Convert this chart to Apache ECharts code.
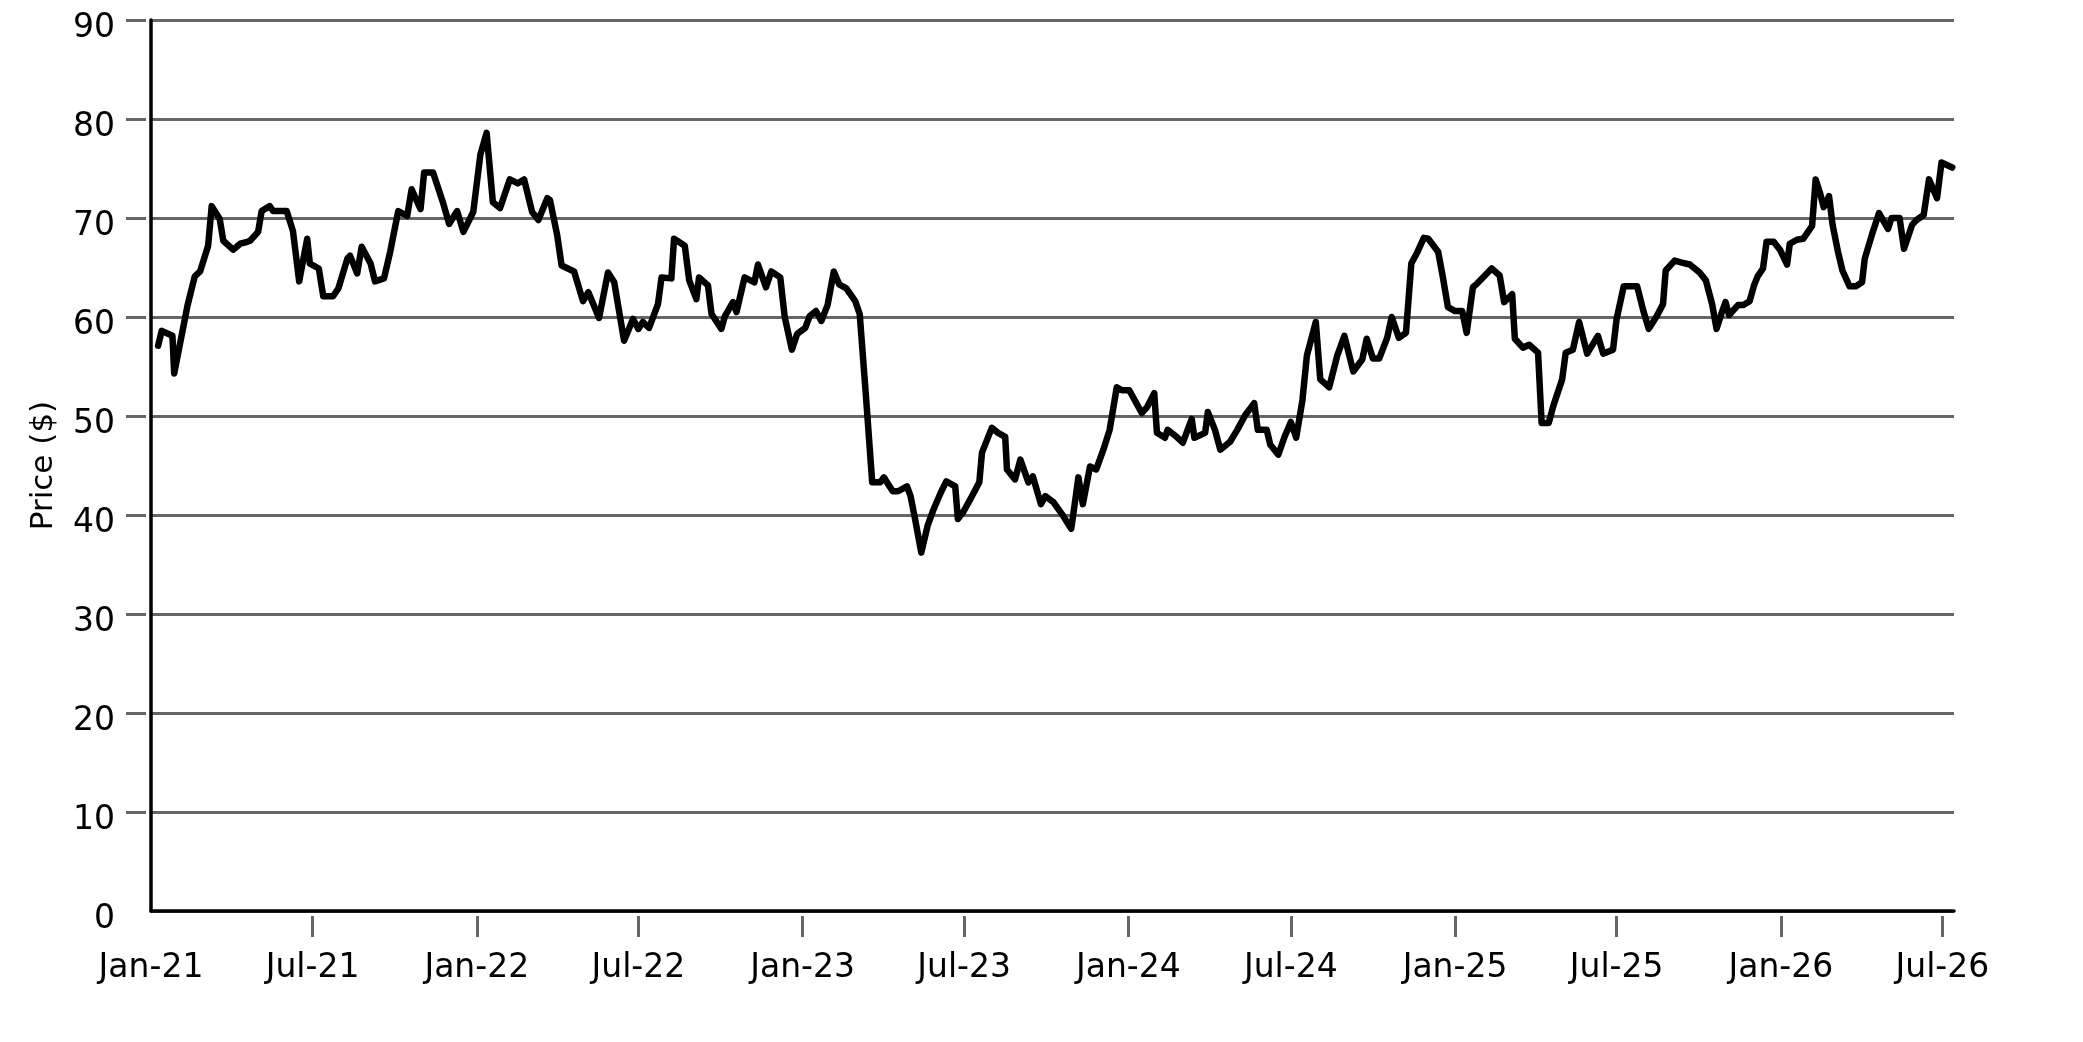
<!DOCTYPE html>
<html>
<head>
<meta charset="utf-8">
<script src="https://cdn.jsdelivr.net/npm/echarts@6/dist/echarts.min.js"></script>
<style>
html,body{margin:0;padding:0;background:#ffffff;}
#chart{width:2083px;height:1042px;}
</style>
</head>
<body>
<div id="chart"></div>
<script>
// ---- data (weekly-ish closing prices) ----
const startDate = '2021-01-01';
// days since startDate for each observation
const dayOffsets = [
8,12,24,26,41,49,55,64,68,77,81,92,100,108,111,120,124,133,137,152,
159,166,175,178,188,193,204,210,220,223,231,236,246,251,261,268,277,287,292,302,
306,316,327,334,343,350,361,369,376,383,391,402,411,418,427,434,444,447,455,460,
474,484,490,502,512,519,530,540,546,551,558,568,572,583,586,598,603,611,614,624,
628,639,643,652,656,665,676,680,689,695,705,710,718,724,733,738,745,751,758,765,
771,779,789,794,801,808,817,821,831,837,847,851,856,863,870,876,885,891,901,904,
910,918,928,931,942,949,957,959,968,974,983,988,997,1002,1011,1022,1031,1039,1044,1052,
1059,1067,1074,1082,1088,1096,1110,1116,1124,1127,1136,1139,1149,1156,1166,1169,1181,1184,1192,1198,
1209,1217,1226,1236,1240,1250,1254,1263,1270,1277,1283,1290,1295,1305,1310,1320,1329,1337,1347,1357,
1362,1369,1376,1385,1390,1398,1406,1412,1419,1426,1431,1442,1447,1453,1461,1469,1474,1481,1486,1502,
1511,1516,1525,1528,1537,1544,1554,1558,1566,1571,1581,1585,1593,1600,1609,1621,1627,1638,1642,1650,
1665,1672,1678,1687,1694,1697,1707,1715,1724,1735,1742,1749,1754,1760,1764,1768,1778,1784,1791,1796,
1800,1806,1810,1818,1825,1833,1836,1844,1851,1861,1865,1870,1874,1880,1884,1890,1895,1903,1910,1917,
1920,1928,1936,1946,1950,1959,1964,1973,1978,1986,1992,2001,2006,2018
];
const prices = [
57.1,58.6,58.1,54.3,61.2,64.1,64.6,67.2,71.2,69.9,67.7,66.8,67.4,67.6,67.7,68.6,70.7,71.2,70.7,70.7,
68.7,63.6,67.9,65.4,64.9,62.1,62.1,62.9,65.9,66.2,64.4,67.1,65.4,63.6,63.9,66.6,70.7,70.2,72.9,70.9,
74.6,74.6,71.6,69.4,70.7,68.6,70.6,76.4,78.6,71.6,71.0,73.9,73.5,73.9,70.6,69.8,72.0,71.8,68.3,65.2,
64.6,61.6,62.5,59.9,64.5,63.5,57.6,59.8,58.8,59.5,58.9,61.3,64.0,63.9,67.9,67.2,63.7,61.8,64.0,63.2,
60.3,58.8,60.1,61.5,60.5,64.0,63.5,65.3,63.0,64.6,64.0,60.0,56.7,58.3,58.9,60.1,60.6,59.6,61.2,64.6,
63.3,62.9,61.6,60.3,52.0,43.3,43.3,43.8,42.4,42.4,42.9,41.9,39.6,36.2,38.9,40.4,42.3,43.4,42.9,39.6,
40.3,41.6,43.3,46.3,48.8,48.3,47.9,44.6,43.6,45.6,43.3,43.9,41.1,41.9,41.3,39.9,38.6,43.8,41.1,44.9,
44.6,46.6,48.6,52.9,52.6,52.6,50.3,50.9,52.3,48.3,47.8,48.6,47.9,47.3,49.7,47.8,48.3,50.4,48.6,46.6,
47.4,48.6,50.1,51.3,48.6,48.6,47.1,46.1,47.9,49.4,47.8,51.6,56.1,59.5,53.7,52.9,56.1,58.1,54.5,55.7,
57.8,55.8,55.8,57.9,60.0,57.9,58.4,65.4,66.6,68.0,67.9,66.6,64.2,61.0,60.6,60.6,58.4,63.0,63.4,64.9,
64.2,61.5,62.3,57.8,56.9,57.2,56.4,49.3,49.3,51.0,53.7,56.4,56.7,59.5,56.3,58.1,56.3,56.7,59.8,63.1,
63.1,60.6,58.8,60.1,61.3,64.7,65.7,65.5,65.3,64.5,63.7,61.3,58.8,60.5,61.5,60.2,61.2,61.2,61.6,63.2,
64.1,64.9,67.6,67.6,66.8,65.3,67.4,67.8,67.9,69.2,73.9,72.5,71.1,72.2,69.3,66.6,64.7,63.1,63.1,63.5,
65.9,68.3,70.5,68.9,70.0,70.0,66.9,69.3,69.8,70.3,73.9,72.0,75.6,75.1
];
const xTickDates = ['2021-01-01','2021-07-01','2022-01-01','2022-07-01','2023-01-01','2023-07-01',
  '2024-01-01','2024-07-01','2025-01-01','2025-07-01','2026-01-01','2026-07-01'];
const axisEndDay = 2020;
const yTickValues = [10,20,30,40,50,60,70,80,90];
const monthNames = ['Jan','Feb','Mar','Apr','May','Jun','Jul','Aug','Sep','Oct','Nov','Dec'];
const yAxisName = 'Price ($)';

// ---- build ----
const DAY = 86400000;
const t0 = Date.parse(startDate + 'T00:00:00Z');
const seriesData = dayOffsets.map((d, i) => [t0 + d * DAY, prices[i]]);
const xTicks = xTickDates.map(s => Date.parse(s + 'T00:00:00Z'));
const xMax = t0 + axisEndDay * DAY;

const FONT = 'DejaVu Sans';
const GRID_GRAY = '#666666';
const labelStyle = {fontFamily: FONT, fontSize: 33, color: '#000000'};

function fmtDate(v) {
  const d = new Date(v);
  return monthNames[d.getUTCMonth()] + '-' + String(d.getUTCFullYear()).slice(2);
}

const chart = echarts.init(document.getElementById('chart'), null, {renderer: 'canvas'});
chart.setOption({
  animation: false,
  backgroundColor: '#ffffff',
  grid: {left: 151, right: 129, top: 20, bottom: 131},
  xAxis: [
    {
      type: 'value', min: t0, max: xMax, position: 'bottom',
      axisLine: {show: true, onZero: false, lineStyle: {color: '#000000', width: 3.5}},
      axisTick: {show: false}, axisLabel: {show: false}, splitLine: {show: false}
    },
    {
      type: 'value', min: t0, max: xMax, position: 'bottom', offset: 5,
      axisLine: {show: false, onZero: false},
      axisTick: {show: true, length: 21, lineStyle: {color: GRID_GRAY, width: 3}, customValues: xTicks.slice(1)},
      axisLabel: Object.assign({show: true, margin: 36, customValues: xTicks, formatter: fmtDate}, labelStyle),
      splitLine: {show: false}
    }
  ],
  yAxis: [
    {
      type: 'value', min: 0, max: 90, interval: 10, position: 'left',
      axisLine: {show: true, lineStyle: {color: '#000000', width: 3.5}},
      axisTick: {show: false}, axisLabel: {show: false},
      splitLine: {show: true, lineStyle: {color: GRID_GRAY, width: 3.2}},
      name: yAxisName, nameLocation: 'middle', nameGap: 92,
      nameTextStyle: {fontFamily: FONT, fontSize: 31, color: '#000000'}
    },
    {
      type: 'value', min: 0, max: 90, interval: 10, position: 'left', offset: 5,
      axisLine: {show: false},
      axisTick: {show: true, length: 20, lineStyle: {color: GRID_GRAY, width: 3}, customValues: yTickValues},
      axisLabel: Object.assign({show: true, margin: 31, verticalAlign: 'top', lineHeight: 16}, labelStyle),
      splitLine: {show: false}
    }
  ],
  series: [{
    type: 'line', xAxisIndex: 0, yAxisIndex: 0,
    data: seriesData, showSymbol: false, symbol: 'none',
    lineStyle: {color: '#000000', width: 6.5, join: 'round', cap: 'round'},
    z: 5
  }]
});
</script>
</body>
</html>
